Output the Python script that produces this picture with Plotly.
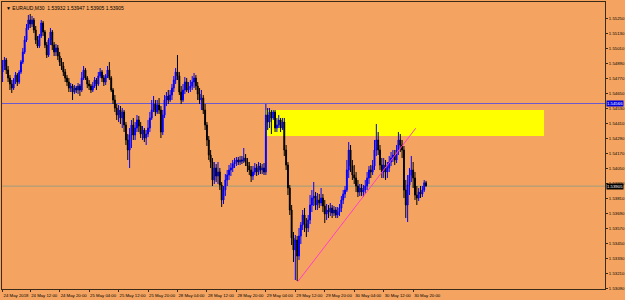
import plotly.graph_objects as go

# ---------------- data (EURAUD, M30) ----------------
bar_index = list(range(9, 240))

open_ = [1.54818,1.54866,1.54914,1.54834,1.54770,1.54722,1.54690,1.54754,1.54794,1.54738,
1.54818,1.54898,1.54978,1.55074,1.55170,1.55234,1.55202,1.55234,1.55154,1.55074,
1.55026,1.55106,1.55210,1.55138,1.55034,1.54954,1.55074,1.55138,1.55034,1.54978,
1.55010,1.54946,1.54898,1.54866,1.54818,1.54770,1.54738,1.54690,1.54706,1.54658,
1.54690,1.54674,1.54706,1.54674,1.54770,1.54834,1.54770,1.54722,1.54706,1.54674,
1.54706,1.54754,1.54722,1.54786,1.54818,1.54770,1.54738,1.54786,1.54834,1.54770,
1.54674,1.54594,1.54530,1.54474,1.54514,1.54450,1.54498,1.54394,1.54274,1.54194,
1.54314,1.54394,1.54314,1.54370,1.54434,1.54386,1.54322,1.54354,1.54290,1.54322,
1.54370,1.54450,1.54514,1.54562,1.54498,1.54554,1.54514,1.54338,1.54474,1.54594,
1.54626,1.54594,1.54634,1.54690,1.54754,1.54818,1.54786,1.54658,1.54594,1.54674,
1.54738,1.54674,1.54690,1.54706,1.54738,1.54770,1.54706,1.54642,1.54594,1.54610,
1.54514,1.54394,1.54274,1.54154,1.54098,1.53954,1.54050,1.53986,1.54018,1.53914,
1.53794,1.53874,1.53954,1.53994,1.54034,1.54050,1.54082,1.54098,1.54114,1.54098,
1.54114,1.54106,1.54130,1.54098,1.54066,1.54034,1.53986,1.54018,1.54050,1.54018,
1.54066,1.54034,1.54050,1.54018,1.54474,1.54418,1.54498,1.54450,1.54498,1.54370,
1.54394,1.54434,1.54370,1.54418,1.54194,1.54074,1.53890,1.53714,1.53490,1.53394,
1.53474,1.53346,1.53506,1.53594,1.53674,1.53602,1.53570,1.53634,1.53754,1.53810,
1.53826,1.53754,1.53794,1.53770,1.53810,1.53746,1.53682,1.53714,1.53698,1.53730,
1.53690,1.53714,1.53674,1.53698,1.53730,1.53794,1.53842,1.53874,1.54034,1.54194,
1.54066,1.53994,1.53970,1.53906,1.53858,1.53890,1.53858,1.53874,1.53906,1.53970,
1.54034,1.54018,1.54066,1.54194,1.54274,1.54194,1.54074,1.54018,1.54074,1.54018,
1.54050,1.54098,1.54130,1.54154,1.54114,1.54194,1.54274,1.54234,1.54194,1.53874,
1.53754,1.53914,1.53994,1.54034,1.53970,1.53834,1.53810,1.53858,1.53842,1.53874,
1.53932]

high = [1.54914,1.54938,1.54930,1.54866,1.54794,1.54754,1.54770,1.54818,1.54810,1.54834,
1.54914,1.55010,1.55106,1.55202,1.55274,1.55282,1.55266,1.55250,1.55186,1.55106,
1.55122,1.55234,1.55226,1.55154,1.55058,1.55090,1.55170,1.55154,1.55058,1.55042,
1.55034,1.54978,1.54930,1.54898,1.54842,1.54794,1.54770,1.54730,1.54722,1.54714,
1.54706,1.54730,1.54722,1.54818,1.54866,1.54850,1.54786,1.54754,1.54722,1.54738,
1.54778,1.54770,1.54818,1.54850,1.54834,1.54794,1.54802,1.54866,1.54898,1.54786,
1.54690,1.54634,1.54562,1.54554,1.54546,1.54530,1.54514,1.54418,1.54322,1.54370,
1.54434,1.54450,1.54418,1.54474,1.54466,1.54418,1.54386,1.54370,1.54354,1.54434,
1.54498,1.54594,1.54626,1.54594,1.54594,1.54610,1.54546,1.54514,1.54634,1.54658,
1.54674,1.54674,1.54722,1.54786,1.54850,1.54954,1.54818,1.54706,1.54722,1.54778,
1.54770,1.54738,1.54754,1.54786,1.54810,1.54794,1.54738,1.54690,1.54674,1.54634,
1.54562,1.54418,1.54306,1.54194,1.54130,1.54098,1.54082,1.54098,1.54050,1.53938,
1.53906,1.54002,1.54034,1.54074,1.54090,1.54114,1.54130,1.54138,1.54138,1.54146,
1.54146,1.54210,1.54162,1.54130,1.54098,1.54066,1.54066,1.54090,1.54082,1.54098,
1.54090,1.54082,1.54090,1.54562,1.54530,1.54530,1.54514,1.54514,1.54514,1.54450,
1.54474,1.54450,1.54450,1.54450,1.54234,1.54098,1.53914,1.53754,1.53538,1.53514,
1.53506,1.53570,1.53618,1.53714,1.53730,1.53650,1.53674,1.53834,1.53874,1.53938,
1.53858,1.53850,1.53842,1.53890,1.53842,1.53794,1.53762,1.53754,1.53770,1.53754,
1.53746,1.53738,1.53738,1.53762,1.53826,1.53874,1.53906,1.54114,1.54258,1.54234,
1.54114,1.54074,1.54018,1.53954,1.53922,1.53922,1.53914,1.53954,1.54018,1.54066,
1.54074,1.54114,1.54274,1.54402,1.54338,1.54234,1.54130,1.54130,1.54114,1.54098,
1.54146,1.54178,1.54194,1.54194,1.54234,1.54338,1.54322,1.54274,1.54226,1.53954,
1.53994,1.54050,1.54146,1.54098,1.54018,1.53906,1.53890,1.53906,1.53906,1.53954,
1.53947]

low = [1.54738,1.54834,1.54802,1.54738,1.54674,1.54650,1.54674,1.54722,1.54706,1.54722,
1.54802,1.54882,1.54962,1.55058,1.55154,1.55170,1.55178,1.55130,1.55042,1.55010,
1.55010,1.55090,1.55106,1.55010,1.54930,1.54938,1.55034,1.54994,1.54946,1.54946,
1.54914,1.54866,1.54834,1.54786,1.54738,1.54706,1.54658,1.54658,1.54594,1.54642,
1.54650,1.54642,1.54626,1.54658,1.54754,1.54754,1.54690,1.54674,1.54650,1.54658,
1.54690,1.54674,1.54706,1.54770,1.54738,1.54706,1.54714,1.54770,1.54754,1.54658,
1.54562,1.54498,1.54434,1.54418,1.54402,1.54370,1.54338,1.54234,1.54114,1.54050,
1.54210,1.54274,1.54274,1.54338,1.54338,1.54290,1.54274,1.54258,1.54234,1.54298,
1.54338,1.54434,1.54498,1.54466,1.54482,1.54482,1.54290,1.54314,1.54450,1.54546,
1.54562,1.54578,1.54594,1.54658,1.54722,1.54754,1.54634,1.54562,1.54578,1.54642,
1.54658,1.54650,1.54658,1.54674,1.54690,1.54674,1.54594,1.54562,1.54514,1.54482,
1.54354,1.54226,1.54114,1.54050,1.53906,1.53922,1.53938,1.53922,1.53874,1.53738,
1.53762,1.53826,1.53906,1.53954,1.53986,1.54018,1.54050,1.54066,1.54074,1.54074,
1.54082,1.54090,1.54066,1.54018,1.53994,1.53938,1.53954,1.53994,1.53986,1.53994,
1.54002,1.54002,1.53994,1.53994,1.54354,1.54370,1.54322,1.54434,1.54338,1.54338,
1.54370,1.54338,1.54354,1.54146,1.54034,1.53834,1.53674,1.53434,1.53298,1.53154,
1.53146,1.53314,1.53442,1.53554,1.53538,1.53498,1.53538,1.53602,1.53698,1.53746,
1.53714,1.53714,1.53730,1.53746,1.53698,1.53610,1.53634,1.53650,1.53666,1.53650,
1.53666,1.53650,1.53650,1.53666,1.53698,1.53762,1.53810,1.53858,1.53970,1.54018,
1.53954,1.53922,1.53858,1.53818,1.53826,1.53826,1.53818,1.53842,1.53874,1.53922,
1.53970,1.53994,1.54034,1.54146,1.54154,1.54034,1.53970,1.53970,1.53954,1.53970,
1.54018,1.54066,1.54098,1.54074,1.54090,1.54154,1.54178,1.54130,1.53810,1.53650,
1.53618,1.53834,1.53938,1.53890,1.53794,1.53754,1.53786,1.53810,1.53818,1.53858,
1.53905]

close = [1.54866,1.54914,1.54834,1.54770,1.54722,1.54690,1.54754,1.54794,1.54738,1.54818,
1.54898,1.54978,1.55074,1.55170,1.55234,1.55202,1.55234,1.55154,1.55074,1.55026,
1.55106,1.55210,1.55138,1.55034,1.54954,1.55074,1.55138,1.55034,1.54978,1.55010,
1.54946,1.54898,1.54866,1.54818,1.54770,1.54738,1.54690,1.54706,1.54658,1.54690,
1.54674,1.54706,1.54674,1.54770,1.54834,1.54770,1.54722,1.54706,1.54674,1.54706,
1.54754,1.54722,1.54786,1.54818,1.54770,1.54738,1.54786,1.54834,1.54770,1.54674,
1.54594,1.54530,1.54474,1.54514,1.54450,1.54498,1.54394,1.54274,1.54194,1.54314,
1.54394,1.54314,1.54370,1.54434,1.54386,1.54322,1.54354,1.54290,1.54322,1.54370,
1.54450,1.54514,1.54562,1.54498,1.54554,1.54514,1.54338,1.54474,1.54594,1.54626,
1.54594,1.54634,1.54690,1.54754,1.54818,1.54786,1.54658,1.54594,1.54674,1.54738,
1.54674,1.54690,1.54706,1.54738,1.54770,1.54706,1.54642,1.54594,1.54610,1.54514,
1.54394,1.54274,1.54154,1.54098,1.53954,1.54050,1.53986,1.54018,1.53914,1.53794,
1.53874,1.53954,1.53994,1.54034,1.54050,1.54082,1.54098,1.54114,1.54098,1.54114,
1.54106,1.54130,1.54098,1.54066,1.54034,1.53986,1.54018,1.54050,1.54018,1.54066,
1.54034,1.54050,1.54018,1.54474,1.54418,1.54498,1.54450,1.54498,1.54370,1.54394,
1.54434,1.54370,1.54418,1.54194,1.54074,1.53890,1.53714,1.53490,1.53394,1.53474,
1.53346,1.53506,1.53594,1.53674,1.53602,1.53570,1.53634,1.53754,1.53810,1.53826,
1.53754,1.53794,1.53770,1.53810,1.53746,1.53682,1.53714,1.53698,1.53730,1.53690,
1.53714,1.53674,1.53698,1.53730,1.53794,1.53842,1.53874,1.54034,1.54194,1.54066,
1.53994,1.53970,1.53906,1.53858,1.53890,1.53858,1.53874,1.53906,1.53970,1.54034,
1.54018,1.54066,1.54194,1.54274,1.54194,1.54074,1.54018,1.54074,1.54018,1.54050,
1.54098,1.54130,1.54154,1.54114,1.54194,1.54274,1.54234,1.54194,1.53874,1.53754,
1.53914,1.53994,1.54034,1.53970,1.53834,1.53810,1.53858,1.53842,1.53874,1.53932,
1.53905]

time_tick_pos = [8.7, 24, 40, 56, 72, 88, 104, 120, 136, 152, 168, 184, 200, 216, 232]
time_tick_text = ["24 May 2018", "24 May 12:00", "24 May 20:00", "25 May 04:00",
                  "25 May 12:00", "25 May 20:00", "28 May 04:00", "28 May 12:00",
                  "28 May 20:00", "29 May 04:00", "29 May 12:00", "29 May 20:00",
                  "30 May 04:00", "30 May 12:00", "30 May 20:00"]

price_ticks = [1.53090, 1.53210, 1.53330, 1.53450, 1.53570, 1.53690, 1.53810, 1.53930,
               1.54050, 1.54170, 1.54290, 1.54410, 1.54530, 1.54650, 1.54770, 1.54890,
               1.55010, 1.55130, 1.55250]

resistance_level = 1.54566
bid_level = 1.53905
zone_x = [151.5, 303.1]
zone_y = [1.54306, 1.54514]
trend_x = [169.3, 233.4]
trend_y = [1.53140, 1.54368]
title_text = "▼ EURAUD,M30  1.53932 1.53947 1.53905 1.53905"

# ---------------- figure ----------------
BG = "#F4A460"
FRAME = "#3a2a18"
FONT = "Liberation Sans"
FS = 4.3

fig = go.Figure()
fig.add_trace(go.Candlestick(
    x=bar_index, open=open_, high=high, low=low, close=close,
    increasing=dict(line=dict(color="#0000FF", width=1), fillcolor="#0000FF"),
    decreasing=dict(line=dict(color="#000000", width=1), fillcolor="#000000"),
    whiskerwidth=0, showlegend=False, hoverinfo="skip"))

shapes = [
    dict(type="rect", xref="x", yref="y", x0=zone_x[0], x1=zone_x[1],
         y0=zone_y[0], y1=zone_y[1], fillcolor="#FFFF00", line=dict(width=0), layer="below"),
    dict(type="line", xref="paper", yref="y", x0=0, x1=1, y0=resistance_level,
         y1=resistance_level, line=dict(color="#6a5acd", width=1), layer="below"),
    dict(type="line", xref="paper", yref="y", x0=0, x1=1, y0=bid_level,
         y1=bid_level, line=dict(color="#9c9c80", width=1), layer="below"),
    dict(type="line", xref="x", yref="y", x0=trend_x[0], x1=trend_x[1],
         y0=trend_y[0], y1=trend_y[1], line=dict(color="#ff40c8", width=1)),
]

annotations = [
    dict(text=title_text, xref="paper", yref="paper", x=0, y=1, xanchor="left",
         yanchor="top", xshift=2, yshift=-1, showarrow=False,
         font=dict(family=FONT, size=5, color="#000000")),
    dict(text=f"{resistance_level:.5f}", xref="paper", yref="y", x=1, y=resistance_level,
         xanchor="left", yanchor="middle", xshift=1, showarrow=False, bgcolor="#0000E0",
         borderpad=0, font=dict(family=FONT, size=FS, color="#FFFFFF")),
    dict(text=f"{bid_level:.5f}", xref="paper", yref="y", x=1, y=bid_level,
         xanchor="left", yanchor="middle", xshift=1, showarrow=False, bgcolor="#000000",
         borderpad=0, font=dict(family=FONT, size=FS, color="#FFFFFF")),
]

fig.update_layout(
    width=625, height=300,
    margin=dict(l=2, r=20, t=2, b=11, autoexpand=False),
    paper_bgcolor=BG, plot_bgcolor=BG,
    shapes=shapes, annotations=annotations,
    showlegend=False,
    xaxis=dict(range=[8.69, 336.2], rangeslider=dict(visible=False), automargin=False,
               tickmode="array", tickvals=time_tick_pos, ticktext=time_tick_text,
               tickangle=0, ticks="outside", ticklen=2, tickcolor=FRAME, ticklabelshift=14,
               ticklabelstandoff=0,
               showgrid=False, zeroline=False, showline=True, linecolor=FRAME,
               linewidth=1, mirror=True,
               tickfont=dict(family=FONT, size=FS, color="#000000")),
    yaxis=dict(range=[1.53082, 1.55378], side="right", tickmode="array", automargin=False,
               tickvals=price_ticks, tickformat=".5f", ticks="outside", ticklen=2,
               tickcolor=FRAME, showgrid=False, zeroline=False, showline=True,
               linecolor=FRAME, linewidth=1, mirror=True,
               tickfont=dict(family=FONT, size=FS, color="#000000")),
)

fig.write_html("out.html")
